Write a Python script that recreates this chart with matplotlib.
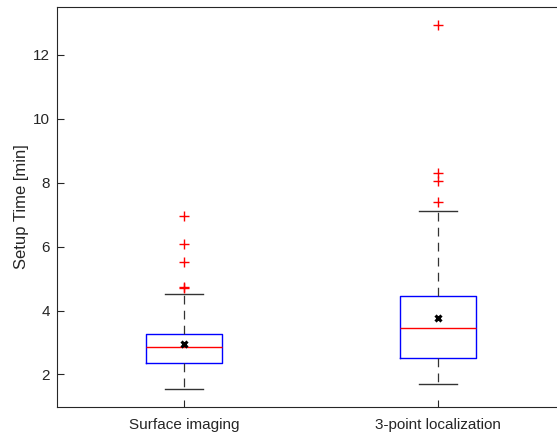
import matplotlib
matplotlib.use("Agg")
import matplotlib.pyplot as plt

plt.rcParams['font.family'] = ['Liberation Sans', 'DejaVu Sans']

labels = ['Surface imaging', '3-point localization']
q1 = [2.37, 2.51]
med = [2.85, 3.46]
q3 = [3.26, 4.45]
whislo = [1.53, 1.70]
whishi = [4.52, 7.13]
means = [2.96, 3.78]
fliers = [[6.95, 6.08, 5.53, 4.73, 4.69],
          [12.93, 8.29, 8.05, 7.41]]

stats = []
for i in range(len(labels)):
    stats.append(dict(label=labels[i], q1=q1[i], med=med[i], q3=q3[i],
                      whislo=whislo[i], whishi=whishi[i], mean=means[i],
                      fliers=fliers[i]))

fig = plt.figure(figsize=(5.57, 4.36), dpi=100)
ax = fig.add_axes([57 / 557, 29 / 436, 508 / 557, 400 / 436])

ax.bxp(stats, positions=[1, 2], widths=0.3, showmeans=True,
       boxprops=dict(color='blue', linewidth=1),
       medianprops=dict(color='red', linewidth=1),
       whiskerprops=dict(color='#333333', linestyle=(0, (7, 5)), linewidth=0.9),
       capprops=dict(color='#333333', linewidth=1),
       flierprops=dict(marker='+', markeredgecolor='red', markersize=7,
                       markeredgewidth=1),
       meanprops=dict(marker='x', markeredgecolor='black', markersize=5,
                      markeredgewidth=2.2))

ax.set_xlim(0.5, 2.5)
ax.set_ylim(0.98, 13.5)
ax.set_yticks([2, 4, 6, 8, 10, 12])
ax.set_ylabel('Setup Time [min]', fontsize=12, color='#262626', labelpad=3)
ax.tick_params(direction='in', length=5, labelsize=11, colors='#262626',
               top=False, right=False)
ax.tick_params(axis='x', pad=8)
ax.tick_params(axis='y', pad=5)
for s in ax.spines.values():
    s.set_color('#262626')
ax.spines['right'].set_visible(False)

fig.savefig('out.png', dpi=100)
